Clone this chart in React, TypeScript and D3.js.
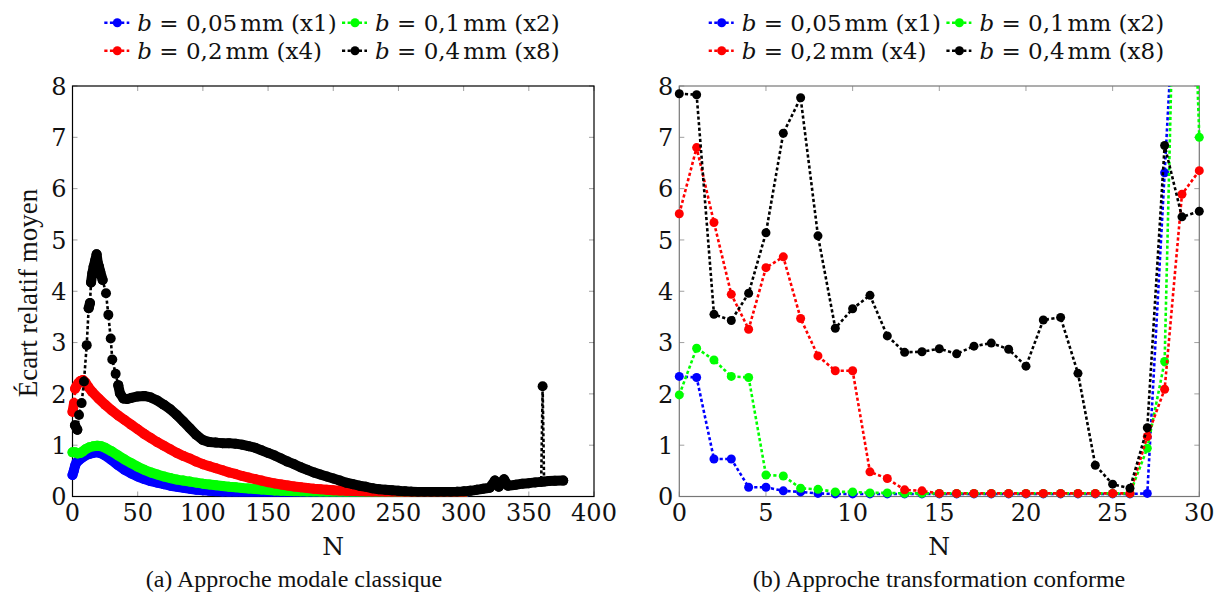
import React from 'react';
import * as d3 from 'd3';

const W = 1220;
const H = 597;
const FONT = '"Liberation Serif", "DejaVu Serif", serif';
const FONT_NUM = '"DejaVu Serif", "Liberation Serif", serif';

// ---------- (a) Approche modale classique : [N, écart] ----------
const classicBlue: [number, number][] = [
  [0, 0.42], [1, 0.5], [2, 0.6], [3, 0.66], [5, 0.71], [7, 0.75], [10, 0.8], [13, 0.83], [16, 0.85], [19, 0.86],
  [22, 0.84], [25, 0.8], [30, 0.71], [35, 0.61], [40, 0.52], [45, 0.45], [50, 0.39], [55, 0.34], [60, 0.3], [65, 0.27],
  [70, 0.24], [75, 0.21], [80, 0.19], [85, 0.17], [90, 0.15], [95, 0.13], [100, 0.12], [105, 0.11], [110, 0.1], [115, 0.09],
  [120, 0.085], [125, 0.08], [130, 0.075], [135, 0.07], [140, 0.068], [145, 0.065], [150, 0.062], [155, 0.06], [160, 0.058],
  [165, 0.056], [170, 0.054], [175, 0.052], [180, 0.05], [185, 0.049], [190, 0.048], [195, 0.047], [200, 0.046], [205, 0.045],
  [210, 0.044], [215, 0.043], [220, 0.042], [225, 0.041], [230, 0.04], [235, 0.04], [240, 0.039], [245, 0.038], [250, 0.037],
  [255, 0.036], [260, 0.035], [265, 0.035], [270, 0.034], [275, 0.033], [280, 0.032], [285, 0.032], [290, 0.031], [295, 0.03],
  [300, 0.03],
];

const classicGreen: [number, number][] = [
  [0, 0.86], [2, 0.86], [4, 0.84], [6, 0.85], [8, 0.88], [10, 0.92], [13, 0.96], [16, 0.98], [19, 0.99], [22, 0.98],
  [25, 0.95], [30, 0.88], [35, 0.8], [40, 0.72], [45, 0.65], [50, 0.58], [55, 0.52], [60, 0.47], [65, 0.43], [70, 0.39],
  [75, 0.36], [80, 0.33], [85, 0.31], [90, 0.29], [95, 0.27], [100, 0.25], [105, 0.235], [110, 0.22], [115, 0.205],
  [120, 0.19], [125, 0.18], [130, 0.165], [135, 0.155], [140, 0.145], [145, 0.135], [150, 0.125], [155, 0.118], [160, 0.112],
  [165, 0.106], [170, 0.1], [175, 0.097], [180, 0.094], [185, 0.091], [190, 0.088], [195, 0.086], [200, 0.084], [205, 0.082],
  [210, 0.08], [215, 0.078], [220, 0.076], [225, 0.074], [230, 0.072], [235, 0.071], [240, 0.07], [245, 0.068], [250, 0.067],
  [255, 0.066], [260, 0.065], [265, 0.064], [270, 0.063], [275, 0.062], [280, 0.061], [285, 0.06], [290, 0.059], [295, 0.058],
  [300, 0.057],
];

const classicRed: [number, number][] = [
  [0, 1.65], [1.2, 1.82], [2, 2.1], [3, 2.15], [4.5, 2.21], [6, 2.25], [8, 2.27], [10, 2.22], [12, 2.14], [15, 2.04],
  [20, 1.91], [25, 1.79], [30, 1.68], [35, 1.58], [40, 1.49], [45, 1.4], [50, 1.31], [55, 1.22], [60, 1.14], [65, 1.06],
  [70, 0.99], [75, 0.92], [80, 0.85], [85, 0.79], [90, 0.74], [95, 0.68], [100, 0.63], [105, 0.59], [110, 0.55], [115, 0.51],
  [120, 0.47], [125, 0.44], [130, 0.4], [135, 0.37], [140, 0.34], [145, 0.31], [150, 0.28], [155, 0.255], [160, 0.235],
  [165, 0.215], [170, 0.195], [175, 0.18], [180, 0.165], [185, 0.15], [190, 0.14], [195, 0.13], [200, 0.12], [205, 0.115],
  [210, 0.11], [215, 0.105], [220, 0.1], [225, 0.097], [230, 0.094], [235, 0.091], [240, 0.089], [245, 0.087], [250, 0.085],
  [255, 0.083], [260, 0.081], [265, 0.079], [270, 0.077], [275, 0.075], [280, 0.073], [285, 0.071], [290, 0.07], [295, 0.068],
  [300, 0.066],
];

const classicBlack: [number, number][] = [
  [1.9, 1.39], [3.7, 1.3], [5, 1.59], [7, 1.82], [8.8, 2.24], [10.9, 2.95], [12.4, 3.67], [13.4, 3.77], [14.2, 4.17],
  [15.2, 4.35], [16.2, 4.48], [17.4, 4.6], [18.5, 4.72], [19.4, 4.55], [20.3, 4.48], [21.3, 4.38], [23.1, 4.22], [25.7, 3.96],
  [27.5, 3.54], [29.3, 3.08], [30.5, 2.67], [33.1, 2.39], [35.1, 2.17], [36.4, 2.01], [39, 1.91], [42, 1.9], [45, 1.92],
  [50, 1.95], [55, 1.96], [60, 1.93], [65, 1.87], [70, 1.79], [75, 1.7], [80, 1.59], [85, 1.46], [90, 1.33], [95, 1.2],
  [100, 1.1], [105, 1.06], [110, 1.05], [115, 1.04], [120, 1.04], [125, 1.03], [130, 1.01], [135, 0.98], [140, 0.95],
  [145, 0.9], [150, 0.85], [155, 0.8], [160, 0.74], [165, 0.68], [170, 0.63], [175, 0.57], [180, 0.52], [185, 0.47],
  [190, 0.43], [195, 0.39], [200, 0.35], [205, 0.31], [210, 0.27], [215, 0.24], [220, 0.21], [225, 0.19], [230, 0.16],
  [235, 0.14], [240, 0.13], [245, 0.12], [250, 0.11], [255, 0.1], [260, 0.095], [265, 0.09], [270, 0.088], [275, 0.087],
  [280, 0.087], [285, 0.088], [290, 0.09], [295, 0.093], [300, 0.1], [305, 0.11], [310, 0.13], [315, 0.15], [320, 0.17],
  [324, 0.31], [327, 0.19], [331, 0.335], [334, 0.21], [340, 0.23], [345, 0.25], [350, 0.26], [355, 0.275], [359.5, 0.285],
  [360.6, 2.15], [361.7, 0.29], [365, 0.3], [370, 0.305], [376.4, 0.31],
];

const classicXTicks = [0, 50, 100, 150, 200, 250, 300, 350, 400];

// ---------- (b) Approche transformation conforme ----------
const conformN = [0, 1, 2, 3, 4, 5, 6, 7, 8, 9, 10, 11, 12, 13, 14, 15, 16, 17, 18, 19, 20, 21, 22, 23, 24, 25, 26, 27, 28, 29, 30];
const conformBlue = [2.34, 2.32, 0.73, 0.73, 0.18, 0.18, 0.11, 0.09, 0.06, 0.05, 0.05, 0.05, 0.05, 0.05, 0.05, 0.05, 0.05, 0.05, 0.05, 0.05, 0.05, 0.05, 0.05, 0.05, 0.05, 0.05, 0.05, 0.06, 6.31, 12.5, 14];
const conformGreen = [1.98, 2.89, 2.66, 2.34, 2.32, 0.42, 0.4, 0.16, 0.14, 0.09, 0.09, 0.07, 0.07, 0.06, 0.06, 0.06, 0.06, 0.06, 0.06, 0.06, 0.06, 0.06, 0.06, 0.06, 0.06, 0.06, 0.06, 0.94, 2.63, 17, 7.0];
const conformRed = [5.51, 6.8, 5.34, 3.94, 3.26, 4.46, 4.67, 3.47, 2.74, 2.45, 2.45, 0.48, 0.35, 0.13, 0.11, 0.06, 0.06, 0.06, 0.06, 0.06, 0.06, 0.06, 0.06, 0.06, 0.06, 0.06, 0.06, 1.17, 2.09, 5.89, 6.35];
const conformBlack = [7.85, 7.83, 3.55, 3.43, 3.96, 5.14, 7.08, 7.77, 5.08, 3.28, 3.66, 3.92, 3.13, 2.81, 2.82, 2.88, 2.78, 2.93, 2.99, 2.87, 2.54, 3.44, 3.49, 2.4, 0.61, 0.24, 0.16, 1.34, 6.84, 5.45, 5.56];
const conformXTicks = [0, 5, 10, 15, 20, 25, 30];

const yTicks = [0, 1, 2, 3, 4, 5, 6, 7, 8];

const seriesValues = ['0,05', '0,1', '0,2', '0,4'];
const seriesFactors = ['x1', 'x2', 'x4', 'x8'];
const seriesColors = ['#0000ff', '#00ff00', '#ff0000', '#000000'];

const classicSeries = [classicBlue, classicGreen, classicRed, classicBlack];
const conformSeries = [conformBlue, conformGreen, conformRed, conformBlack];

const TOP = 86;
const BOTTOM = 496.5;

const DASH = '3.2 2.4';
const LW = 2.6;
const R_LEFT = 5;

function Legend({ dx }: { dx: number }) {
  const colX = [117.3 + dx, 355 + dx];
  const rowY = [22.7, 50.7];
  return (
    <g>
      {seriesValues.map((v, i) => {
        const cx = colX[i % 2];
        const cy = rowY[Math.floor(i / 2)];
        return (
          <g key={i}>
            <line x1={cx - 13} x2={cx + 12} y1={cy} y2={cy} stroke={seriesColors[i]} strokeWidth={LW} strokeDasharray={DASH} />
            <circle cx={cx} cy={cy} r={4.5} fill={seriesColors[i]} />
            <text x={cx + 20} y={cy + 8} fontSize={23} fontFamily={FONT_NUM} fill="#111">
              <tspan fontStyle="italic">b</tspan>
              <tspan> = {v}</tspan>
              <tspan dx={3}>mm ({seriesFactors[i]})</tspan>
            </text>
          </g>
        );
      })}
    </g>
  );
}

function Frame({
  x, xTicks, frameColor, clipId,
}: { x: d3.ScaleLinear<number, number>; xTicks: number[]; frameColor: string; clipId: string }) {
  const y = d3.scaleLinear().domain([0, 8]).range([BOTTOM, TOP]);
  const [x0, x1] = x.range();
  const tickColor = '#a0a0a0';
  return (
    <g>
      {xTicks.map((t) => (
        <g key={'x' + t}>
          <line x1={x(t)} x2={x(t)} y1={BOTTOM} y2={BOTTOM - 5} stroke={tickColor} strokeWidth={1} />
          <line x1={x(t)} x2={x(t)} y1={TOP} y2={TOP + 5} stroke={tickColor} strokeWidth={1} />
          <text x={x(t)} y={521} textAnchor="middle" fontSize={24} fontFamily={FONT_NUM} fill="#111">{t}</text>
        </g>
      ))}
      {yTicks.map((t) => (
        <g key={'y' + t}>
          <line x1={x0} x2={x0 + 5} y1={y(t)} y2={y(t)} stroke={tickColor} strokeWidth={1} />
          <line x1={x1} x2={x1 - 5} y1={y(t)} y2={y(t)} stroke={tickColor} strokeWidth={1} />
          <text x={x0 - 6} y={y(t)} dy="0.36em" textAnchor="end" fontSize={24} fontFamily={FONT_NUM} fill="#111">{t}</text>
        </g>
      ))}
      <rect x={x0} y={TOP} width={x1 - x0} height={BOTTOM - TOP} fill="none" stroke={frameColor} strokeWidth={1.2} />
      <text x={(x0 + x1) / 2} y={555} textAnchor="middle" fontSize={25} fontFamily={FONT_NUM} fill="#111">N</text>
      <clipPath id={clipId}><rect x={x0 - 20} y={TOP} width={x1 - x0 + 40} height={BOTTOM - TOP} /></clipPath>
    </g>
  );
}

// Thick band through consecutive points that sit close together (overlapping markers)
function bandPath(pts: [number, number][]) {
  let d = '';
  for (let i = 1; i < pts.length; i++) {
    const [xa, ya] = pts[i - 1];
    const [xb, yb] = pts[i];
    if (Math.hypot(xb - xa, yb - ya) < 2.2 * R_LEFT) d += `M${xa},${ya}L${xb},${yb}`;
  }
  return d;
}

export default function App() {
  const yScale = d3.scaleLinear().domain([0, 8]).range([BOTTOM, TOP]);
  const xL = d3.scaleLinear().domain([0, 400]).range([72.5, 594]);
  const xR = d3.scaleLinear().domain([0, 30]).range([679.3, 1199.3]);

  const lineL = d3.line<[number, number]>().x((d) => xL(d[0])).y((d) => yScale(d[1]));
  const lineR = d3.line<number>().x((_, i) => xR(conformN[i])).y((d) => yScale(d));

  return (
    <svg width={W} height={H} viewBox={`0 0 ${W} ${H}`} style={{ position: 'absolute', left: 0, top: 0, display: 'block', background: '#fff' }}>
      <rect width={W} height={H} fill="#fff" />
      <Legend dx={0} />
      <Legend dx={604.4} />

      <Frame x={xL} xTicks={classicXTicks} frameColor="#000" clipId="clipL" />
      <Frame x={xR} xTicks={conformXTicks} frameColor="#777" clipId="clipR" />

      {/* left series */}
      <g clipPath="url(#clipL)">
        {classicSeries.map((s, i) => {
          const px = s.map((d) => [xL(d[0]), yScale(d[1])] as [number, number]);
          return (
            <g key={i}>
              <path d={lineL(s) || ''} fill="none" stroke={seriesColors[i]} strokeWidth={LW} strokeDasharray={DASH} />
              <path d={bandPath(px)} fill="none" stroke={seriesColors[i]} strokeWidth={2 * R_LEFT} strokeLinecap="round" strokeLinejoin="round" />
              {px.map((p, j) => (
                <circle key={j} cx={p[0]} cy={p[1]} r={R_LEFT} fill={seriesColors[i]} />
              ))}
            </g>
          );
        })}
      </g>

      {/* right series */}
      <g>
        {conformSeries.map((s, i) => (
          <g key={i}>
            <g clipPath="url(#clipR)">
              <path d={lineR(s) || ''} fill="none" stroke={seriesColors[i]} strokeWidth={LW} strokeDasharray={DASH} />
            </g>
            {s.map((v, j) => (v <= 8 ? (
              <circle key={j} cx={xR(conformN[j])} cy={yScale(v)} r={4.5} fill={seriesColors[i]} />
            ) : null))}
          </g>
        ))}
      </g>

      <text transform="translate(37,293) rotate(-90)" textAnchor="middle" fontSize={27} fontFamily={FONT} fill="#111">Écart relatif moyen</text>

      <text x={294} y={587} textAnchor="middle" fontSize={24} fontFamily={FONT} fill="#111">(a) Approche modale classique</text>
      <text x={939} y={587} textAnchor="middle" fontSize={24} fontFamily={FONT} fill="#111">(b) Approche transformation conforme</text>
    </svg>
  );
}
